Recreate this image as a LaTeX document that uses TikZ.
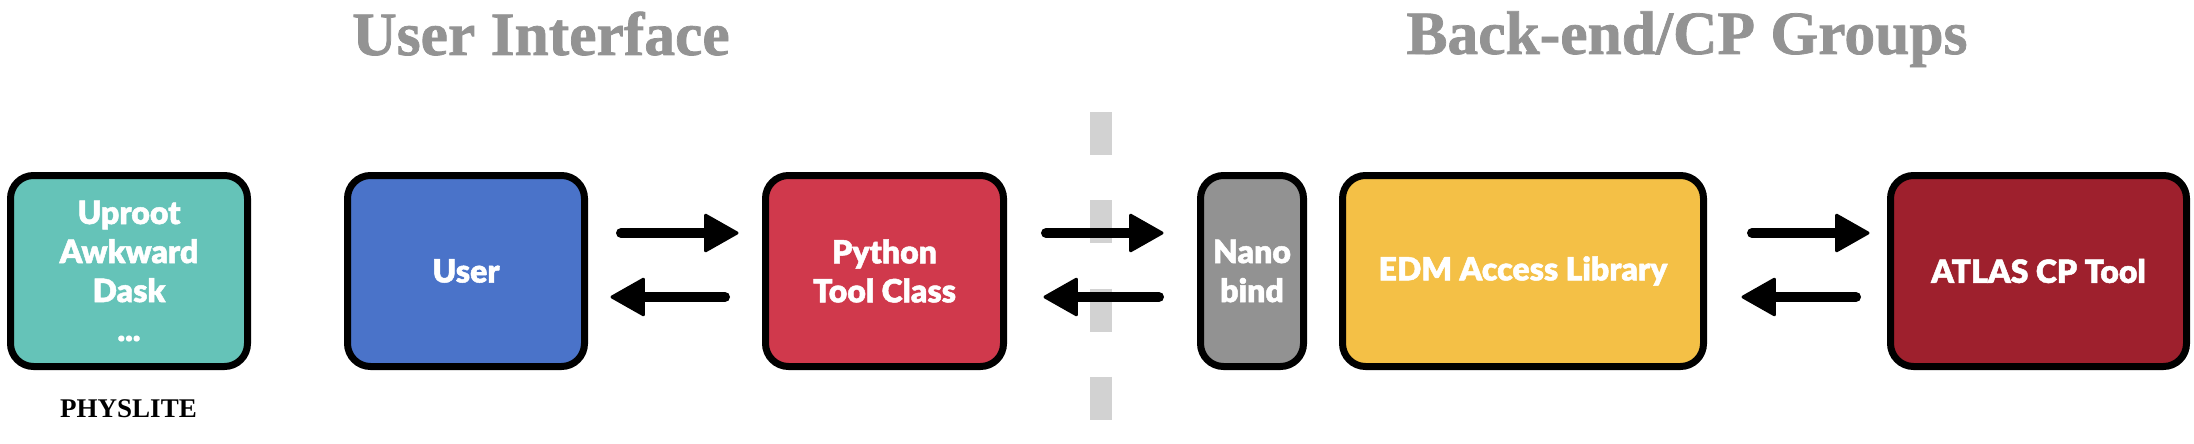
\documentclass[tikz,border=0pt]{standalone}
\usepackage{fontspec}
\setmainfont{Liberation Serif}
\newfontfamily\boxfont{Lato Black}[FakeBold=1.5]
\newfontfamily\titlefont{Liberation Serif Bold}[FakeBold=1.2]
\usetikzlibrary{arrows.meta}
\definecolor{tealbox}{HTML}{65C3B8}
\definecolor{bluebox}{HTML}{4A73C9}
\definecolor{redbox}{HTML}{D0394C}
\definecolor{graybox}{HTML}{929292}
\definecolor{yellowbox}{HTML}{F4C046}
\definecolor{darkredbox}{HTML}{9E202D}
\definecolor{titlegray}{HTML}{939393}
\definecolor{dashgray}{HTML}{D2D2D2}
\begin{document}
\begin{tikzpicture}[x=1pt,y=-1pt,
  box/.style={draw=black, line width=7pt, rounded corners=23pt, minimum height=191pt,
    inner sep=0pt, text=white, align=center, font=\boxfont\fontsize{32}{39}\selectfont},
  brush/.style={line width=10pt, line cap=round, -{Triangle[length=36pt,width=40pt,round,line width=3pt]}},
  title/.style={text=titlegray, font=\titlefont\fontsize{61.5}{61.5}\selectfont, anchor=base, inner sep=0pt}
]
\useasboundingbox (0,0) rectangle (2194,444);
% divider
\draw[dashgray, line width=22pt, dash pattern=on 43pt off 45.3pt] (1101,112) -- (1101,420);
% titles
\node[title] (ui) at (541,55) {User Interface};
\node[title] (be) at (1687,54) {Back-end/CP Groups};
% boxes
\node[box, fill=tealbox, minimum width=237pt] (uproot) at (129,271) {Uproot\\Awkward\\Dask\\...};
\node[box, fill=bluebox, minimum width=237pt] (user) at (466,271) {User};
\node[box, fill=redbox, minimum width=238pt] (python) at (884.5,271) {Python\\Tool Class};
\node[box, fill=graybox, minimum width=103pt] (nano) at (1252,271) {Nano\\bind};
\node[box, fill=yellowbox, minimum width=361pt] (edm) at (1523,271) {EDM Access Library};
\node[box, fill=darkredbox, minimum width=296pt] (atlas) at (2038.5,271) {ATLAS CP Tool};
\node[font=\bfseries\fontsize{27}{27}\selectfont, anchor=base, inner sep=0pt] (physlite) at (128.5,417) {PHYSLITE};
% arrows
\draw[brush] ([xshift=33pt,yshift=38pt]user.east) -- ([xshift=-23.5pt,yshift=38pt]python.west);
\draw[brush] ([xshift=-37pt,yshift=-26pt]python.west) -- ([xshift=22.5pt,yshift=-26pt]user.east);
\draw[brush] ([xshift=39pt,yshift=38pt]python.east) -- ([xshift=-33.5pt,yshift=38pt]nano.west);
\draw[brush] ([xshift=-38pt,yshift=-26pt]nano.west) -- ([xshift=36.5pt,yshift=-26pt]python.east);
\draw[brush] ([xshift=45pt,yshift=38pt]edm.east) -- ([xshift=-17.5pt,yshift=38pt]atlas.west);
\draw[brush] ([xshift=-31pt,yshift=-26pt]atlas.west) -- ([xshift=34.5pt,yshift=-26pt]edm.east);
\end{tikzpicture}
\end{document}
